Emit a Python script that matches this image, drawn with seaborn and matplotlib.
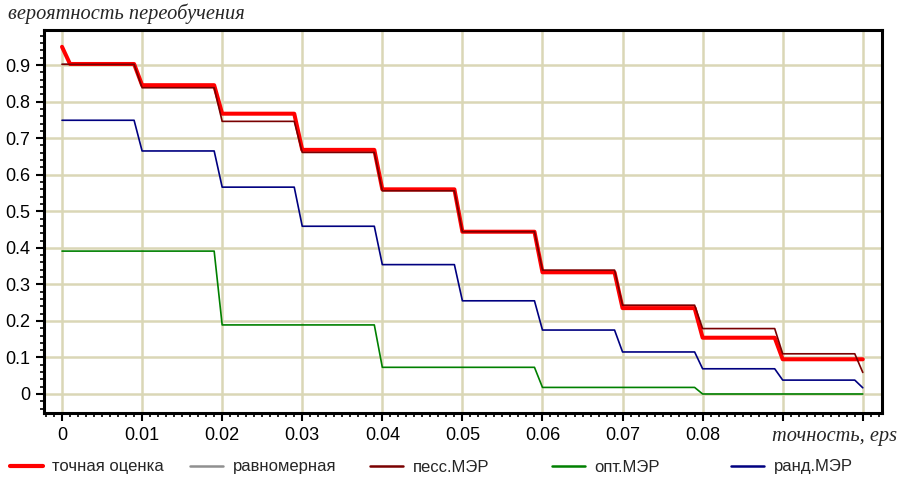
import numpy as np
import pandas as pd
import matplotlib
matplotlib.use("Agg")
import matplotlib.pyplot as plt
from matplotlib.ticker import MultipleLocator
from matplotlib.lines import Line2D
import seaborn as sns

# ---- data: one level per 0.01-wide eps interval, plus value at eps=0.1 ----
seg_start = [0.00, 0.01, 0.02, 0.03, 0.04, 0.05, 0.06, 0.07, 0.08, 0.09]
exact_first = 0.95
exact_levels = [0.903, 0.845, 0.767, 0.668, 0.560, 0.444, 0.333, 0.235, 0.154, 0.095]
exact_end = 0.095
uniform_levels = [0.903, 0.845, 0.767, 0.668, 0.560, 0.444, 0.333, 0.235, 0.154, 0.095]
uniform_end = 0.095
pess_levels = [0.902, 0.838, 0.746, 0.661, 0.556, 0.444, 0.339, 0.243, 0.179, 0.110]
pess_end = 0.059
opt_levels = [0.391, 0.391, 0.189, 0.189, 0.073, 0.073, 0.018, 0.018, 0.000, 0.000]
opt_end = 0.0
rand_levels = [0.749, 0.665, 0.566, 0.459, 0.354, 0.255, 0.175, 0.115, 0.069, 0.038]
rand_end = 0.017
seg_len = 0.009
eps_end = 0.1

x_ticks = [0.0, 0.01, 0.02, 0.03, 0.04, 0.05, 0.06, 0.07, 0.08, 0.09, 0.1]
x_ticklabels = ["0", "0.01", "0.02", "0.03", "0.04", "0.05", "0.06", "0.07", "0.08", "", ""]
y_ticks = [0.0, 0.1, 0.2, 0.3, 0.4, 0.5, 0.6, 0.7, 0.8, 0.9]
y_ticklabels = ["0", "0.1", "0.2", "0.3", "0.4", "0.5", "0.6", "0.7", "0.8", "0.9"]

labels = ["точная оценка", "равномерная", "песс.МЭР", "опт.МЭР", "ранд.МЭР"]
colors = ["#ff0000", "#909090", "#7a0000", "#008000", "#000080"]
widths = [2.9, 1.1, 1.2, 1.2, 1.2]


def step_frame(levels, end, first=None):
    xs, ys = [], []
    for i, (s, v) in enumerate(zip(seg_start, levels)):
        if i == 0 and first is not None:
            xs += [s, s + 0.001]
            ys += [first, v]
        else:
            xs.append(s)
            ys.append(v)
        xs.append(s + seg_len)
        ys.append(v)
    xs.append(eps_end)
    ys.append(end)
    return pd.DataFrame({"eps": xs, "p": ys})


frames = [
    step_frame(exact_levels, exact_end, exact_first),
    step_frame(uniform_levels, uniform_end),
    step_frame(pess_levels, pess_end),
    step_frame(opt_levels, opt_end),
    step_frame(rand_levels, rand_end),
]

sns.set_theme(style="white")
plt.rcParams["font.family"] = ["Liberation Sans", "DejaVu Sans"]

fig = plt.figure(figsize=(9.01, 4.82), dpi=100)
ax = fig.add_axes([44 / 901, 1 - 413 / 482, (882 - 44) / 901, (413 - 30) / 482])

zorders = [3, 2, 4, 2, 2]
for i in [1, 0, 2, 3, 4]:
    sns.lineplot(data=frames[i], x="eps", y="p", ax=ax, color=colors[i], linewidth=widths[i],
                 estimator=None, sort=False, zorder=zorders[i])

ax.set_xlim(-0.00225, 0.1024)
ax.set_ylim(-0.052, 0.996)
ax.xaxis.set_minor_locator(MultipleLocator(0.001))
ax.yaxis.set_minor_locator(MultipleLocator(0.02))
ax.set_xticks(x_ticks)
ax.set_xticklabels(x_ticklabels)
ax.set_yticks(y_ticks)
ax.set_yticklabels(y_ticklabels)
ax.tick_params(which="major", direction="out", length=6, width=1.5, colors="black",
               labelsize=13, bottom=True, left=True, pad=4)
ax.tick_params(which="minor", direction="out", length=3, width=1.2, colors="black",
               bottom=True, left=True)
ax.grid(True, which="major", color="#dad7b6", linewidth=1.8)
ax.set_axisbelow(True)
for sp in ax.spines.values():
    sp.set_color("black")
    sp.set_linewidth(2.2)
ax.set_xlabel("")
ax.set_ylabel("")

fig.text(8 / 901, 1 - 14 / 482, "вероятность переобучения", family=["Liberation Serif"],
         style="italic", fontsize=14.7, ha="left", va="center")
fig.text(897 / 901, 1 - 437 / 482, "точность, eps", family=["Liberation Serif"],
         style="italic", fontsize=14.7, ha="right", va="center")

starts = [10, 190, 370, 552, 731]
for i, s in enumerate(starts):
    h = Line2D([], [], color=colors[i], linewidth=3 if i == 0 else 1.8)
    fig.legend(handles=[h], labels=[labels[i]], loc="center left",
               bbox_to_anchor=(s / 901, 1 - 467 / 482), frameon=False,
               handlelength=2.0, handletextpad=0.55, fontsize=12,
               borderaxespad=0, borderpad=0)

fig.savefig("out.png", dpi=100)
